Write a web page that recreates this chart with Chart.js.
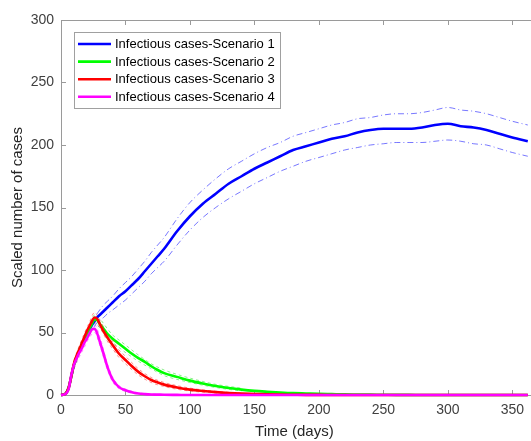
<!DOCTYPE html>
<html>
<head>
<meta charset="utf-8">
<title>Infectious cases - scenarios</title>
<script src="https://cdn.jsdelivr.net/npm/chart.js@4.4.1/dist/chart.umd.min.js"></script>
<style>
    html, body { margin: 0; padding: 0; background: #fff; }
    .chart-wrap { position: relative; width: 531px; height: 441px; }
</style>
</head>
<body>
<div class="chart-wrap">
    <canvas id="casesChart" width="531" height="441"></canvas>
</div>
<script>
// ========================================
// DATA
// ========================================
const days = [0, 2, 4, 6, 8, 10, 12, 14, 16, 18, 20, 22, 24, 26, 28, 30,
    33, 36, 40, 45, 50, 55, 60, 65, 70, 75, 80,
    90, 100, 110, 120, 130, 140, 150, 160, 170, 180, 190, 200, 210, 220, 230,
    240, 250, 260, 270, 280, 290, 300, 310, 320, 330, 340, 350, 362];

const scenario1 = [0, 0.3, 1.5, 6, 15, 24, 30, 35, 40, 44, 48, 52, 56, 59, 62, 64,
    67, 70, 74, 79, 83, 88, 93, 99, 105, 111, 117,
    131, 143, 153, 161, 169, 175, 181, 186, 191, 196, 199, 202, 205, 207, 210,
    212, 213, 213, 213, 214, 216, 217, 215, 214, 212, 209, 206, 203];
const scenario1Upper = [0, 0.3, 1.5, 6, 15, 24, 30, 35, 40, 44, 50, 55, 59, 62, 65, 68,
    72, 75, 79, 85, 90, 95, 101, 107, 114, 120, 126,
    141, 154, 164, 173, 181, 187, 193, 198, 202, 207, 210, 213, 216, 218, 221,
    222, 224, 225, 225, 226, 228, 230, 228, 227, 225, 222, 219, 216];
const scenario1Lower = [0, 0.3, 1.5, 6, 15, 24, 30, 35, 40, 44, 46, 49, 52, 55, 58, 60,
    62, 65, 68, 72, 76, 81, 86, 91, 97, 102, 107,
    120, 132, 142, 150, 157, 163, 169, 174, 179, 183, 187, 190, 193, 196, 198,
    200, 201, 202, 202, 202, 203, 204, 203, 201, 200, 197, 194, 191];

const scenario2 = [0, 0.3, 1.5, 6, 15, 24, 30, 35, 40, 44, 48, 53, 57, 60.5, 60, 57,
    53, 49, 45, 41, 37, 33, 29.5, 26.5, 23, 20, 17.5,
    14.5, 11.5, 9.2, 7.2, 5.6, 4.3, 3.3, 2.6, 2, 1.5, 1.2, 0.9, 0.7, 0.5, 0.4,
    0.3, 0.2, 0.1, 0.1, 0, 0, 0, 0, 0, 0, 0, 0, 0];
const scenario3 = [0, 0.3, 1.5, 6, 15, 25, 31, 36, 41, 46, 51, 55, 59, 62, 61, 57,
    51, 46, 40, 33, 28, 23, 18.5, 15, 12, 10, 8.3,
    6, 4.3, 3.2, 2.3, 1.6, 1.1, 0.8, 0.5, 0.3, 0.2, 0.1, 0.1, 0, 0, 0,
    0, 0, 0, 0, 0, 0, 0, 0, 0, 0, 0, 0, 0];
const scenario4 = [0, 0.3, 1.2, 5, 16, 24, 29, 33.5, 37, 41.5, 45, 49, 52.5, 53, 49.5, 43,
    33, 22.5, 12.5, 6.3, 3.8, 2.2, 1.2, 0.7, 0.4, 0.3, 0.2,
    0.1, 0, 0, 0, 0, 0, 0, 0, 0, 0, 0, 0, 0, 0, 0,
    0, 0, 0, 0, 0, 0, 0, 0, 0, 0, 0, 0, 0];

// faint confidence lines around the early peaks
const bandDays = [10, 14, 18, 22, 26, 30, 36, 40, 45, 50, 60, 70, 80, 90, 100, 120, 140];
const scenario2Upper = [27, 38, 47, 56, 64, 61, 53, 48, 44, 40, 32, 25, 20, 16.5, 13.5, 8.5, 5.5];
const scenario2Lower = [21, 32, 41, 50, 57, 54, 46, 42, 38, 34, 27, 21, 15.5, 12.5, 10, 6, 3.2];
const scenario3Upper = [28, 39, 49, 58, 66, 60, 49, 43, 36, 31, 21, 14, 10, 7.5, 5.5, 3, 1.5];
const scenario3Lower = [22, 33, 43, 52, 58, 54, 43, 37, 30, 25, 16, 10, 6.8, 4.6, 3.2, 1.6, 0.8];
const scenario4Upper = [27, 37, 45, 52, 56, 47, 25, 14.5, 7.5, 4.8, 1.8, 0.8, 0.4, 0.2, 0.1, 0, 0];
const scenario4Lower = [21, 30, 38, 46, 50, 40, 20, 10.5, 5, 2.8, 0.6, 0.1, 0, 0, 0, 0, 0];

const seriesLabels = [
    'Infectious cases-Scenario 1',
    'Infectious cases-Scenario 2',
    'Infectious cases-Scenario 3',
    'Infectious cases-Scenario 4'
];
const seriesColors = ['#0000ff', '#00ff00', '#ff0000', '#ff00ff'];
const bandColors = ['rgba(30,30,255,0.6)', 'rgba(0,220,0,0.45)', 'rgba(255,0,0,0.45)', 'rgba(255,0,255,0.45)'];

const yTicks = [0, 50, 100, 150, 200, 250, 300];
const xTicks = [0, 50, 100, 150, 200, 250, 300, 350];

document.addEventListener('DOMContentLoaded', function() {

    const FONT = '"Liberation Sans", Arial, Helvetica, sans-serif';

    function toPoints(xs, ys) {
        return xs.map(function(x, i) { return { x: x, y: ys[i] }; });
    }

    function mainLine(i, values) {
        return {
            label: seriesLabels[i],
            data: toPoints(days, values),
            borderColor: seriesColors[i],
            borderWidth: 2.6,
            pointRadius: 0,
            cubicInterpolationMode: 'monotone',
            clip: false,
            inLegend: true,
            order: 4 - i
        };
    }

    function bandLine(i, xs, values, dash) {
        return {
            label: '',
            data: toPoints(xs, values),
            borderColor: bandColors[i],
            borderWidth: 1,
            borderDash: dash,
            pointRadius: 0,
            cubicInterpolationMode: 'monotone',
            clip: false,
            inLegend: false,
            order: 10 + i
        };
    }

    // ========================================
    // 1. MATLAB STYLE AXES BOX (inward ticks)
    // ========================================
    const axesBox = {
        id: 'axesBox',
        beforeDatasetsDraw: function(chart) {
            const ctx = chart.ctx;
            const area = chart.chartArea;
            const xs = chart.scales.x;
            const ys = chart.scales.y;
            ctx.save();
            ctx.strokeStyle = '#9a9a9a';
            ctx.lineWidth = 1;
            ctx.beginPath();
            ctx.moveTo(area.left + 0.5, area.top + 0.5);
            ctx.lineTo(area.left + 0.5, area.bottom + 0.5);
            ctx.lineTo(chart.width, area.bottom + 0.5);
            ctx.moveTo(area.left + 0.5, area.top + 0.5);
            ctx.lineTo(chart.width, area.top + 0.5);
            yTicks.forEach(function(v) {
                const py = Math.round(ys.getPixelForValue(v)) + 0.5;
                ctx.moveTo(area.left, py);
                ctx.lineTo(area.left + 5, py);
            });
            xTicks.forEach(function(v) {
                const px = Math.round(xs.getPixelForValue(v)) + 0.5;
                ctx.moveTo(px, area.bottom);
                ctx.lineTo(px, area.bottom - 5);
                ctx.moveTo(px, area.top);
                ctx.lineTo(px, area.top + 5);
            });
            ctx.stroke();
            ctx.restore();
        }
    };

    // ========================================
    // 2. LEGEND BOX (top-left inside the axes)
    // ========================================
    const boxLegend = {
        id: 'boxLegend',
        afterDatasetsDraw: function(chart) {
            const ctx = chart.ctx;
            const items = chart.data.datasets.filter(function(d) { return d.inLegend; });
            const bx = 74.5, by = 32.5, bw = 206, bh = 76;
            ctx.save();
            ctx.fillStyle = '#ffffff';
            ctx.fillRect(bx, by, bw, bh);
            ctx.strokeStyle = '#a0a0a0';
            ctx.lineWidth = 1;
            ctx.strokeRect(bx, by, bw, bh);
            ctx.font = '13px ' + FONT;
            ctx.textBaseline = 'middle';
            ctx.textAlign = 'left';
            items.forEach(function(d, i) {
                const rowY = 44 + i * 17.6;
                ctx.strokeStyle = d.borderColor;
                ctx.lineWidth = 2.6;
                ctx.beginPath();
                ctx.moveTo(78, rowY);
                ctx.lineTo(111, rowY);
                ctx.stroke();
                ctx.fillStyle = '#000000';
                ctx.fillText(d.label, 115, rowY + 0.5);
            });
            ctx.restore();
        }
    };

    // ========================================
    // 3. CHART
    // ========================================
    const ctx = document.getElementById('casesChart').getContext('2d');
    new Chart(ctx, {
        type: 'line',
        data: {
            datasets: [
                mainLine(0, scenario1),
                mainLine(1, scenario2),
                mainLine(2, scenario3),
                mainLine(3, scenario4),
                bandLine(0, days, scenario1Upper, [6, 3, 1, 3]),
                bandLine(0, days, scenario1Lower, [6, 3, 1, 3]),
                bandLine(1, bandDays, scenario2Upper, [3, 3]),
                bandLine(1, bandDays, scenario2Lower, [3, 3]),
                bandLine(2, bandDays, scenario3Upper, [3, 3]),
                bandLine(2, bandDays, scenario3Lower, [3, 3]),
                bandLine(3, bandDays, scenario4Upper, [3, 3]),
                bandLine(3, bandDays, scenario4Lower, [3, 3])
            ]
        },
        options: {
            responsive: false,
            animation: false,
            layout: {
                padding: { top: 20, right: 0, left: 0, bottom: 0 }
            },
            plugins: {
                legend: { display: false },
                tooltip: { enabled: false }
            },
            scales: {
                x: {
                    type: 'linear',
                    min: 0,
                    max: 362,
                    afterFit: function(scale) { scale.height = 46; },
                    grid: { display: false, drawTicks: false },
                    border: { display: false },
                    ticks: {
                        stepSize: 50,
                        includeBounds: false,
                        autoSkip: false,
                        maxRotation: 0,
                        padding: 7,
                        color: '#404040',
                        font: { family: FONT, size: 14 }
                    },
                    title: {
                        display: true,
                        text: 'Time (days)',
                        color: '#262626',
                        padding: { top: 0, bottom: 0 },
                        font: { family: FONT, size: 15 }
                    }
                },
                y: {
                    min: 0,
                    max: 300,
                    afterFit: function(scale) { scale.width = 61; },
                    grid: { display: false, drawTicks: false },
                    border: { display: false },
                    ticks: {
                        stepSize: 50,
                        padding: 7,
                        color: '#404040',
                        font: { family: FONT, size: 14 }
                    },
                    title: {
                        display: true,
                        text: 'Scaled number of cases',
                        color: '#262626',
                        padding: { top: 9, bottom: 0 },
                        font: { family: FONT, size: 15 }
                    }
                }
            }
        },
        plugins: [axesBox, boxLegend]
    });
});
</script>
</body>
</html>
